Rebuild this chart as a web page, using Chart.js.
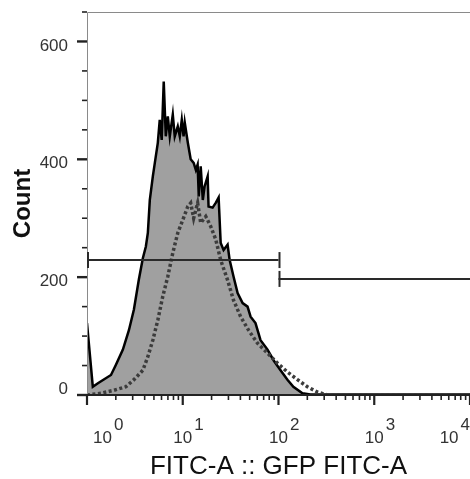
<!DOCTYPE html>
<html>
<head>
<meta charset="utf-8">
<script src="https://cdn.jsdelivr.net/npm/chart.js@4/dist/chart.umd.min.js"></script>
<style>
  html, body { margin: 0; padding: 0; background: #fff; }
  #wrap { width: 470px; height: 479px; }
</style>
</head>
<body>
<div id="wrap"><canvas id="histChart" width="470" height="479"></canvas></div>
<script>
// Sample histogram (filled, solid outline): FITC-A values and counts
const sampleX = [1.0, 1.15, 1.30, 1.78, 2.0, 2.37, 2.74, 3.09, 3.48, 3.83, 4.12, 4.32, 4.53, 4.87,
  5.11, 5.49, 5.75, 6.03, 6.33, 6.65, 6.98, 7.32, 7.87, 8.25, 8.87, 9.31, 9.77, 10.2, 10.5, 11.3,
  12.1, 13.0, 13.7, 14.3, 14.7, 15.4, 16.2, 16.9, 18.2, 18.6, 20.5, 22.1, 23.7, 24.9, 26.7, 29.4,
  30.9, 33.9, 37.4, 42.2, 47.5, 51.1, 57.5, 64.9, 76.8, 88.7, 105, 124, 143, 178, 215, 300, 500,
  1000, 2000, 5000, 10000];
const sampleCounts = [122, 14, 20, 34, 51, 77, 110, 145, 196, 232, 252, 275, 331, 371,
  394, 428, 467, 433, 532, 439, 473, 439, 476, 439, 456, 439, 467, 439, 462, 428,
  400, 394, 382, 391, 337, 388, 331, 354, 371, 320, 318, 326, 335, 258, 246, 255,
  229, 201, 173, 156, 150, 133, 122, 93, 77, 59, 42, 26, 14, 3, 1, 1, 1,
  1, 1, 1, 1];

// Control histogram (dotted outline)
const controlX = [1.0, 1.40, 1.91, 2.55, 3.09, 3.83, 4.32, 4.87, 5.49, 6.18, 6.98, 7.87, 8.87, 10.0,
  11.3, 12.1, 13.0, 14.3, 15.4, 17.4, 19.6, 22.1, 24.9, 29.4, 33.9, 40.2, 48.7, 60.3, 76.8, 97.6,
  124, 158, 200, 255, 324, 1000, 10000];
const controlCounts = [0, 3, 8, 14, 26, 42, 65, 93, 127, 167, 201, 241, 275, 297,
  320, 326, 300, 326, 292, 303, 286, 264, 229, 195, 161, 133, 110, 88, 71, 54,
  39, 26, 14, 5, 0, 0, 0];

// Gates: [from, to] on FITC-A and the count level they are drawn at
const gateRanges = [[1, 100], [100, 10000]];
const gateLevels = [229, 197];

const xDecades = [1, 10, 100, 1000, 10000];
const xDecadeExp = ['0', '1', '2', '3', '4'];
const yMajor = [0, 200, 400, 600];

const FONT = '"Liberation Sans", Arial, Helvetica, sans-serif';

// Axis lines, tick marks, tick labels and gates
const axesPlugin = {
  id: 'axesPlugin',
  afterDatasetsDraw(chart) {
    const { ctx, chartArea: a, scales: { x, y } } = chart;
    ctx.save();

    // frame: left and top in grey
    ctx.strokeStyle = '#8a8a8a';
    ctx.lineWidth = 1;
    ctx.beginPath();
    ctx.moveTo(a.left + 0.5, y.getPixelForValue(0));
    ctx.lineTo(a.left + 0.5, a.top + 0.5);
    ctx.lineTo(a.right, a.top + 0.5);
    ctx.stroke();

    // x baseline
    const y0 = y.getPixelForValue(0);
    ctx.strokeStyle = '#222';
    ctx.lineWidth = 2;
    ctx.beginPath();
    ctx.moveTo(a.left, y0);
    ctx.lineTo(a.right, y0);
    ctx.stroke();

    // x ticks (log, minor 2..9)
    for (let d = 0; d < xDecades.length; d++) {
      const base = xDecades[d];
      const px = x.getPixelForValue(base);
      ctx.lineWidth = 2.2;
      ctx.beginPath();
      ctx.moveTo(px, y0);
      ctx.lineTo(px, y0 + 10);
      ctx.stroke();
      if (d < xDecades.length - 1) {
        ctx.lineWidth = 1.6;
        for (let m = 2; m <= 9; m++) {
          const mx = x.getPixelForValue(base * m);
          ctx.beginPath();
          ctx.moveTo(mx, y0);
          ctx.lineTo(mx, y0 + 5);
          ctx.stroke();
        }
      }
    }

    // y ticks: major every 200, minor every 50
    for (let v = 0; v <= 650; v += 50) {
      const py = y.getPixelForValue(v);
      const major = v % 200 === 0;
      ctx.lineWidth = major ? 2.4 : 1.6;
      ctx.beginPath();
      ctx.moveTo(a.left - (major ? 10 : 5), py);
      ctx.lineTo(a.left, py);
      ctx.stroke();
    }

    // y tick labels
    ctx.fillStyle = '#333';
    ctx.font = '17px ' + FONT;
    ctx.textAlign = 'right';
    ctx.textBaseline = 'middle';
    yMajor.forEach(v => {
      const py = y.getPixelForValue(v) + (v === 0 ? -6 : 4.5);
      ctx.fillText(String(v), a.left - 19, py);
    });

    // x tick labels: 10 with superscript exponent
    ctx.textAlign = 'left';
    ctx.textBaseline = 'alphabetic';
    xDecades.forEach((v, i) => {
      const px = x.getPixelForValue(v);
      ctx.font = '17px ' + FONT;
      const w = ctx.measureText('10').width;
      const sw = ctx.measureText(xDecadeExp[i]).width;
      let left = px - w / 2;
      left = Math.max(left, a.left + 6);
      left = Math.min(left, chart.width - w - sw - 2);
      ctx.fillText('10', left, y0 + 48);
      ctx.fillText(xDecadeExp[i], left + w + 2, y0 + 35);
    });

    // gates
    ctx.strokeStyle = '#2a2a2a';
    ctx.lineWidth = 2;
    gateRanges.forEach((r, i) => {
      const gy = y.getPixelForValue(gateLevels[i]);
      const x1 = x.getPixelForValue(r[0]);
      const x2 = x.getPixelForValue(r[1]);
      ctx.beginPath();
      ctx.moveTo(x1, gy);
      ctx.lineTo(x2, gy);
      ctx.stroke();
      [x1, x2].forEach(cx => {
        ctx.beginPath();
        ctx.moveTo(cx + 1, gy - 8);
        ctx.lineTo(cx + 1, gy + 8);
        ctx.stroke();
      });
    });

    ctx.restore();
  }
};

const ctx = document.getElementById('histChart').getContext('2d');
const histChart = new Chart(ctx, {
  type: 'line',
  data: {
    datasets: [
      {
        label: 'Control',
        data: controlX.map((v, i) => ({ x: v, y: controlCounts[i] })),
        borderColor: '#3c3c3c',
        borderWidth: 3.5,
        borderDash: [3, 2.5],
        fill: false,
        pointRadius: 0,
        tension: 0,
        order: 1
      },
      {
        label: 'Sample',
        data: sampleX.map((v, i) => ({ x: v, y: sampleCounts[i] })),
        borderColor: '#000',
        borderWidth: 2.5,
        backgroundColor: '#a0a0a0',
        fill: 'origin',
        pointRadius: 0,
        tension: 0,
        order: 2
      }
    ]
  },
  options: {
    responsive: false,
    animation: false,
    layout: { padding: { top: 12, right: 0, left: 0, bottom: 0 } },
    plugins: { legend: { display: false }, tooltip: { enabled: false } },
    scales: {
      x: {
        type: 'logarithmic',
        min: 1,
        max: 10000,
        grid: { display: false },
        border: { display: false },
        ticks: { display: false },
        title: {
          display: true,
          text: 'FITC-A :: GFP FITC-A',
          color: '#111',
          font: { family: FONT, size: 26, lineHeight: 1 },
          padding: { top: 0, bottom: -1 }
        },
        afterFit: s => { s.height = 84; }
      },
      y: {
        min: 0,
        max: 650,
        grid: { display: false },
        border: { display: false },
        ticks: { display: false },
        title: {
          display: true,
          text: 'Count',
          color: '#111',
          font: { family: FONT, size: 24, weight: 'bold', lineHeight: 1 },
          padding: { top: 11, bottom: 0 }
        },
        afterFit: s => { s.width = 87; }
      }
    }
  },
  plugins: [axesPlugin]
});
</script>
</body>
</html>
